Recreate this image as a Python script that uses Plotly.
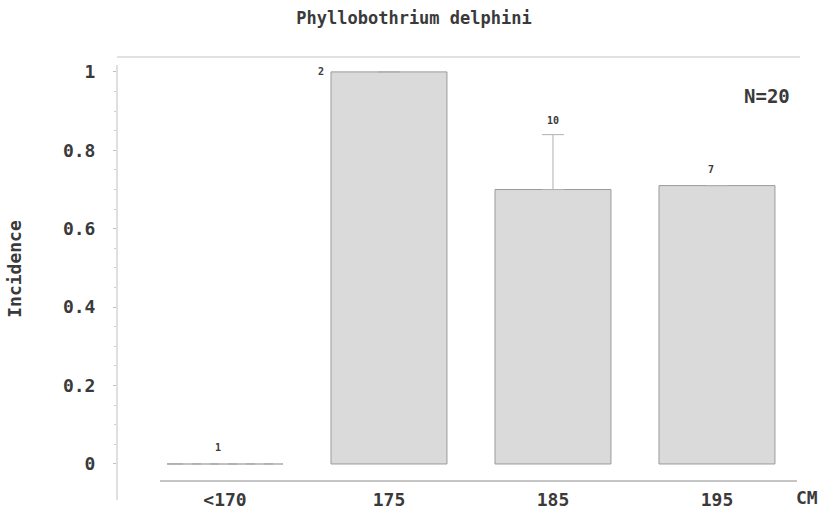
import plotly.graph_objects as go

categories = ["<170", "175", "185", "195"]
incidence = [0.0, 1.0, 0.70, 0.71]
err_up = [0.0, 0.0, 0.14, 0.0]
counts = [1, 2, 10, 7]
title = "Phyllobothrium delphini"
n_text = "N=20"

FONT = "DejaVu Sans Mono"
TXT = "#3a3a3a"
xs = list(range(len(categories)))

L, R, T, B = 117, 11, 57, 30
PW, PH = 828 - L - R, 511 - T - B
def px_x(p):
    return (p - L) / PW
def px_y(p):
    return (511 - B - p) / PH

fig = go.Figure()
fig.add_trace(go.Bar(
    x=xs, y=incidence, width=0.707,
    marker=dict(color="#dadada", line=dict(color="#9a9a9a", width=1)),
    error_y=dict(type="data", array=err_up, symmetric=False, arrayminus=[0]*4,
                 color="#b0b0b0", thickness=1, width=11, visible=True),
    hoverinfo="skip",
))

# count labels
shifts = [(-7, 16), (-68, 0), (0, 14), (-6, 16)]
for x, v, e, c, (dx, dy) in zip(xs, incidence, err_up, counts, shifts):
    fig.add_annotation(x=x, y=v + e, text="<b>%d</b>" % c, showarrow=False,
                       xshift=dx, yshift=dy, yanchor="middle",
                       font=dict(family=FONT, size=10, color=TXT))

fig.add_annotation(x=px_x(792), y=px_y(96), xref="paper", yref="paper",
                   text="<b>%s</b>" % n_text, showarrow=False, xanchor="right",
                   yanchor="middle", font=dict(family=FONT, size=19, color=TXT))
fig.add_annotation(x=px_x(794), y=px_y(498), xref="paper", yref="paper",
                   text="<b>CM</b>", showarrow=False, xanchor="left", yanchor="middle",
                   font=dict(family=FONT, size=18, color=TXT))

shapes = [
    # x axis line (detached)
    dict(type="line", xref="paper", yref="paper", x0=px_x(160), x1=px_x(797),
         y0=0, y1=0, line=dict(color="#8a8a8a", width=1)),
    # top border
    dict(type="line", xref="paper", yref="paper", x0=0, x1=px_x(800),
         y0=1, y1=1, line=dict(color="#c4c4c4", width=1)),
    # y axis line extended
    dict(type="line", xref="paper", yref="paper", x0=0, x1=0,
         y0=px_y(500), y1=px_y(65), line=dict(color="#c0c0c0", width=1)),
    # dashed zero outline of empty bar
    dict(type="line", xref="paper", yref="y", x0=px_x(183), x1=px_x(283),
         y0=0, y1=0, line=dict(color="#d0d0d0", width=1, dash="dash")),
]

fig.update_layout(
    width=828, height=511,
    margin=dict(l=L, r=R, t=T, b=B, autoexpand=False),
    paper_bgcolor="white", plot_bgcolor="white",
    showlegend=False,
    shapes=shapes,
    title=dict(text="<b>%s</b>" % title, x=0.5, xref="container", xanchor="center",
               y=1 - 18 / 511, yanchor="middle",
               font=dict(family=FONT, size=17, color=TXT)),
    bargap=0.3,
)
fig.update_xaxes(
    range=[-0.6585, 3.610], tickvals=xs, automargin=False,
    ticktext=["<b>%s</b>" % c for c in categories],
    showline=False, showgrid=False, zeroline=False, ticks="",
    tickfont=dict(family=FONT, size=18, color=TXT), ticklabelstandoff=6,
)
fig.update_yaxes(
    range=[-0.0434, 1.038], tickvals=[0, 0.2, 0.4, 0.6, 0.8, 1], automargin=False,
    ticktext=["<b>%s</b>" % t for t in ["0", "0.2", "0.4", "0.6", "0.8", "1"]],
    showline=False, showgrid=False, zeroline=False,
    ticks="outside", ticklen=3, tickcolor="#c0c0c0",
    minor=dict(dtick=0.05, ticks="outside", ticklen=2, tickcolor="#cccccc", tick0=0),
    tickfont=dict(family=FONT, size=18, color=TXT), ticklabelstandoff=14,
    title=dict(text="<b>Incidence</b>", font=dict(family=FONT, size=18, color=TXT),
               standoff=36),
)

fig.write_html("out.html")
